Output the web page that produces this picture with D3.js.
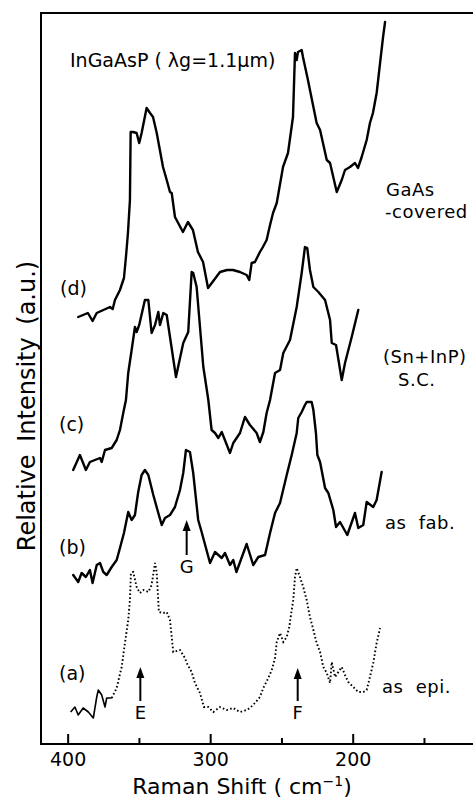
<!DOCTYPE html>
<html><head><meta charset="utf-8">
<script src="https://cdn.jsdelivr.net/npm/d3@7"></script>
<style>
body{margin:0;background:#fff}
svg{display:block}
text{font-family:"DejaVu Sans",sans-serif;fill:#000}
</style>
</head><body>
<svg id="chart" width="473" height="798"></svg>
<script>
// ---- data (Raman shift in cm-1, relative intensity in a.u.) ----
const majorTicks = [400, 300, 200];
const minorTicks = [350, 250, 150];
const curveNames = ["(a)", "(b)", "(c)", "(d)"];
const sampleNames = [["as epi."], ["as fab."], ["(Sn+InP)", "S.C."], ["GaAs", "-covered"]];
const peakLetters = ["E", "G", "F"];
const peakShifts = [349, 316.5, 238.6];
const titleText = "InGaAsP ( λg=1.1μm)";

const curveA = [[397.9,32],[394.9,37],[392.6,29],[389.1,36],[385.5,32],[382,26],[379.6,47],[378.5,54],[376.1,49],[373.8,37],[372.6,46],[369.1,46],[365.6,56],[362.1,77],[359.8,101],[357.5,124],[356.3,144],[355.6,171],[354,172],[351.6,157],[349.3,151],[346.9,154],[343.4,152],[341.1,159],[338.7,181],[337.5,171],[336,132],[332.9,131],[330.5,132],[328.2,124],[325.9,92],[321.2,94],[317.7,86],[316.5,81],[313,72],[310.7,61],[307.2,51],[304.4,37],[301.3,37],[297.8,32],[293.1,37],[288.4,34],[283.8,36],[279.1,32],[274.4,34],[272.1,36],[268.6,41],[265.1,47],[262.7,56],[259.2,66],[256.8,74],[254.5,86],[253.3,102],[251,111],[248.7,102],[246.3,107],[244.5,117],[242.8,134],[241.7,144],[240.5,167],[239.3,176],[237,167],[234.7,157],[232.3,144],[230,127],[227.6,114],[225.3,101],[222.9,92],[220.6,77],[218.2,71],[215.9,61],[214.7,82],[212.4,67],[210.1,72],[207.7,77],[205.4,69],[203.1,62],[199.6,57],[196.1,52],[192.6,52],[190.2,54],[187.9,67],[185.6,81],[183.2,101],[180.8,116]];

const curveB = [[396.1,169],[392.6,162],[390.2,171],[387.2,167],[384.4,174],[382.5,161],[379.6,179],[377.3,181],[375,172],[372.6,169],[369.1,177],[365.6,184],[363.3,196],[360.5,211],[357.5,232],[355.1,224],[352.8,229],[350.5,252],[348.1,269],[345.8,274],[343.4,269],[339.9,249],[336.4,231],[334,219],[331.7,226],[328.2,229],[324.7,237],[321.2,254],[318.9,271],[317,294],[314.2,292],[311.9,271],[308.4,224],[306,212],[300.1,181],[296.6,192],[291.9,186],[289.6,191],[286.1,179],[283.8,184],[281.6,172],[274.4,200],[269.8,179],[266.2,187],[261.5,189],[258,211],[254.5,231],[251,241],[246.3,269],[242.8,289],[239.3,311],[238.2,326],[235.8,332],[233.5,339],[232.3,342],[228.8,342],[227.6,334],[225.8,311],[224.8,289],[222.9,282],[219.4,256],[217.1,251],[213.6,234],[211.7,217],[208.9,222],[203.8,209],[198.4,231],[196.1,216],[192.6,219],[190.2,242],[185.6,237],[183.2,244],[179.7,272]];

const curveC = [[396.1,274],[391.4,289],[387.2,274],[384.4,282],[377.3,286],[376.1,282],[373.8,294],[369.1,296],[365.6,304],[363.3,314],[361,331],[359.1,344],[357.5,371],[355.1,394],[352.8,417],[351.6,412],[349.8,419],[345.8,444],[343.4,444],[341.1,411],[338.7,419],[336.4,432],[335.2,419],[332.9,431],[330.5,429],[324,367],[318.9,401],[315.4,412],[313,472],[311.9,471],[309.5,457],[304.8,377],[301.3,344],[299,314],[296.6,311],[294.3,306],[291.9,312],[286.1,291],[283.8,301],[279.1,311],[275.6,327],[272.1,319],[267.4,311],[265.1,302],[262.7,312],[260.4,331],[258,344],[254.5,371],[251,374],[248.7,391],[244,404],[239.3,437],[235.8,471],[233.5,497],[231.9,496],[230,474],[227.6,457],[224.1,452],[219.4,444],[215.9,424],[214.7,401],[211.7,399],[207.7,364],[205.4,381],[200.7,407],[196.1,434]];

const curveD = [[392.6,427],[385.8,431],[382.5,423],[379.6,431],[370.3,437],[368.4,435],[366.8,444],[363.3,454],[360.5,466],[359.1,487],[357.7,511],[356.3,544],[355.8,612],[354.2,612],[351.6,611],[349.8,601],[348.1,611],[344.6,636],[342.2,631],[340.1,627],[337.5,611],[333.1,577],[330.5,564],[328.2,552],[327,551],[324.7,527],[319.1,512],[315.6,522],[312.1,514],[308.6,492],[305,482],[301.5,456],[293.1,472],[288.2,474],[284,474],[279.1,472],[274.4,469],[272.6,464],[270.9,481],[268.6,482],[265.1,492],[263,497],[260.4,504],[258,519],[255.9,531],[253.3,541],[248.9,577],[245.4,591],[241.9,627],[240.5,691],[239.3,684],[238.4,692],[235.8,694],[234.9,687],[231.4,664],[230,654],[225.3,621],[222.9,614],[218.2,584],[215.9,581],[211.2,552],[207.7,564],[205.4,574],[201.9,577],[198.4,581],[196.3,576],[193.7,587],[190.2,604],[187.9,621],[185.8,631],[183.2,651],[180.8,681],[178.7,707],[177.3,722]];

// ---- chart ----
const svg = d3.select("#chart");
const x = d3.scaleLinear().domain([418.7, 115.6]).range([41, 473]);
const y = d3.scaleLinear().domain([0, 731]).range([744, 13]);

// frame
svg.append("path")
  .attr("d", `M${x.range()[1]+5},${y(731)} H${x(418.7)} V${y(0)} H${x.range()[1]+5}`)
  .attr("fill", "none").attr("stroke", "#000").attr("stroke-width", 2);

// ticks
const axMaj = d3.axisBottom(x).tickValues(majorTicks).tickSize(-10).tickPadding(9).tickFormat(d3.format("d"));
const axMin = d3.axisBottom(x).tickValues(minorTicks).tickSize(-6).tickFormat("");
const gMaj = svg.append("g").attr("transform", `translate(0,${y(0)})`).call(axMaj);
const gMin = svg.append("g").attr("transform", `translate(0,${y(0)})`).call(axMin);
[gMaj, gMin].forEach(g => {
  g.select(".domain").remove();
  g.selectAll(".tick line").attr("stroke", "#000").attr("stroke-width", 2);
});
gMaj.selectAll(".tick text").style("font-family", '"DejaVu Sans",sans-serif').style("font-size", "19px").attr("fill", "#000");

// axis titles
const xt = svg.append("text").attr("x", 242).attr("y", 794).attr("text-anchor", "middle").style("font-size", "22px");
xt.append("tspan").text("Raman Shift ( cm");
xt.append("tspan").attr("dy", -8).style("font-size", "14px").text("−1");
xt.append("tspan").attr("dy", 8).text(")");

svg.append("text").attr("transform", "translate(35,406) rotate(-90)")
  .attr("text-anchor", "middle").style("font-size", "24px").style("word-spacing", "5px")
  .text("Relative Intensity (a.u.)");

// title
svg.append("text").attr("x", 70).attr("y", 67).style("font-size", "19px").text(titleText);

// curves
const line = d3.line().x(d => x(d[0])).y(d => y(d[1]));
[curveB, curveC, curveD].forEach(c => {
  svg.append("path").attr("d", line(c)).attr("fill", "none").attr("stroke", "#000")
    .attr("stroke-width", 2.4).attr("stroke-linejoin", "round").attr("stroke-linecap", "round");
});
const aSplit = curveA.findIndex(d => d[0] < 370);
svg.append("path").attr("d", line(curveA.slice(0, aSplit + 1))).attr("fill", "none")
  .attr("stroke", "#000").attr("stroke-width", 1.6).attr("stroke-linejoin", "round");
svg.append("path").attr("d", line(curveA.slice(aSplit))).attr("fill", "none")
  .attr("stroke", "#000").attr("stroke-width", 1.9).attr("stroke-dasharray", "1.6 2.3");

// curve letters
const letterPos = [[59, 680], [59, 554], [59, 431], [60, 295]];
curveNames.forEach((t, i) => {
  svg.append("text").attr("x", letterPos[i][0]).attr("y", letterPos[i][1]).style("font-size", "19px").text(t);
});

// sample labels
const samplePos = [[[382, 693]], [[385, 529]], [[383, 363], [398, 386]], [[386, 196], [385, 218]]];
sampleNames.forEach((lines, i) => {
  lines.forEach((t, j) => {
    svg.append("text").attr("x", samplePos[i][j][0]).attr("y", samplePos[i][j][1])
      .style("font-size", "18px").style("letter-spacing", "0.5px").style("word-spacing", "6px").text(t);
  });
});

// peak arrows
const arrowY = [[667, 701, 719], [520, 555, 573], [668, 701, 719]];
peakLetters.forEach((t, i) => {
  const px = x(peakShifts[i]);
  const [tip, tail, lab] = arrowY[i];
  svg.append("line").attr("x1", px).attr("x2", px).attr("y1", tip + 8).attr("y2", tail)
    .attr("stroke", "#000").attr("stroke-width", 2);
  svg.append("path").attr("d", `M${px},${tip} L${px-4},${tip+11} L${px+4},${tip+11} Z`).attr("fill", "#000");
  svg.append("text").attr("x", px).attr("y", lab).attr("text-anchor", "middle").style("font-size", "18px").text(t);
});
</script>
</body></html>
